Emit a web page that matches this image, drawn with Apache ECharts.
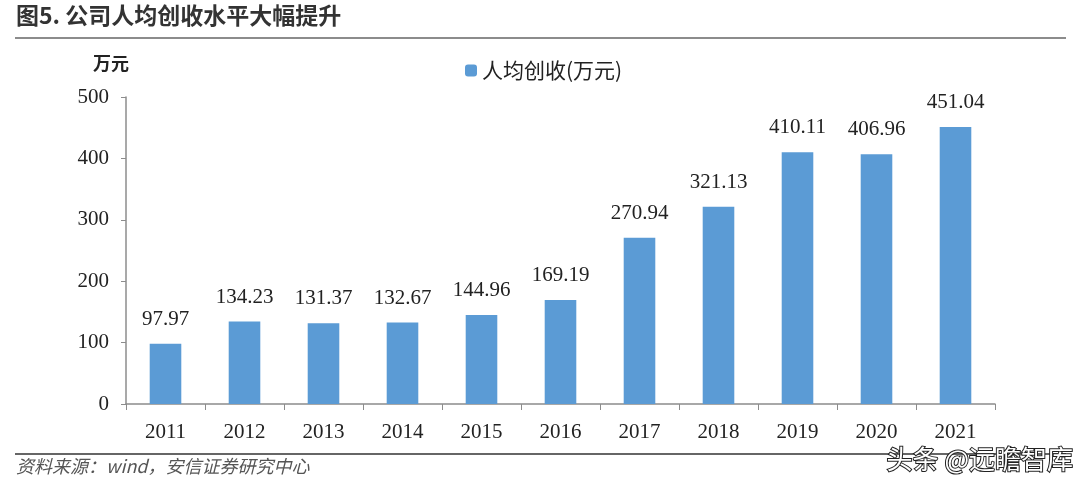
<!DOCTYPE html>
<html>
<head>
<meta charset="utf-8">
<script src="https://cdn.jsdelivr.net/npm/echarts@6/dist/echarts.min.js"></script>
<style>
  html, body { margin: 0; padding: 0; background: #fff; }
  #main { width: 1080px; height: 490px; }
</style>
</head>
<body>
<div id="main"></div>
<script>
// 年份与人均创收(万元)
const years = ['2011', '2012', '2013', '2014', '2015', '2016', '2017', '2018', '2019', '2020', '2021'];
const revenuePerHead = [97.97, 134.23, 131.37, 132.67, 144.96, 169.19, 270.94, 321.13, 410.11, 406.96, 451.04];
const seriesName = '人均创收(万元)';

const serif = '"Liberation Serif", "Times New Roman", serif';
const cjk = '"Noto Sans CJK SC", sans-serif';

let myChart = echarts.init(document.getElementById('main'));

let option = {
  color: ['#5b9bd5'],
  animation: false,
  graphic: [
    // 标题
    { type: 'text', left: 16, top: 4,
      style: { text: '图5. 公司人均创收水平大幅提升', font: 'bold 23px ' + cjk, fill: '#333' } },
    { type: 'line', shape: { x1: 15, y1: 38, x2: 1066, y2: 38 },
      style: { stroke: '#8c8c8c', lineWidth: 2 } },
    // 单位
    { type: 'text', left: 93, top: 54,
      style: { text: '万元', font: 'bold 18px ' + cjk, fill: '#222' } },
    // 底部来源
    { type: 'line', shape: { x1: 15, y1: 454, x2: 1066, y2: 454 },
      style: { stroke: '#666', lineWidth: 2 } },
    { type: 'text', left: 16, top: 457,
      style: { text: '资料来源：wind，安信证券研究中心', font: 'italic 18px ' + cjk, fill: '#555' } },
    { type: 'text', right: 6, top: 445,
      style: { text: '头条 @远瞻智库', font: '26px ' + cjk, fill: '#fff',
               stroke: '#222', lineWidth: 2 } }
  ],
  legend: {
    data: [seriesName],
    left: 460,
    top: 55,
    itemWidth: 12,
    itemHeight: 12,
    itemGap: 7,
    textStyle: { fontFamily: cjk, fontSize: 21, color: '#222' }
  },
  grid: { left: 126, right: 85, top: 97, bottom: 86 },
  xAxis: {
    type: 'category',
    data: years,
    axisLine: { lineStyle: { color: '#8c8c8c', width: 1.5 } },
    axisTick: { show: true, length: 6, lineStyle: { color: '#8c8c8c' } },
    axisLabel: { fontFamily: serif, fontSize: 21, color: '#222', margin: 18 }
  },
  yAxis: {
    type: 'value',
    min: 0,
    max: 500,
    interval: 100,
    splitLine: { show: false },
    axisLine: { show: true, lineStyle: { color: '#8c8c8c', width: 1.5 } },
    axisTick: { show: true, length: 5, lineStyle: { color: '#8c8c8c' } },
    axisLabel: { fontFamily: serif, fontSize: 21, color: '#222', margin: 17 }
  },
  series: [{
    name: seriesName,
    type: 'bar',
    data: revenuePerHead,
    barWidth: '40%',
    label: {
      show: true,
      position: 'top',
      distance: 14,
      fontFamily: serif,
      fontSize: 21,
      color: '#222',
      formatter: p => p.value.toFixed(2)
    }
  }]
};

myChart.setOption(option);
</script>
</body>
</html>
